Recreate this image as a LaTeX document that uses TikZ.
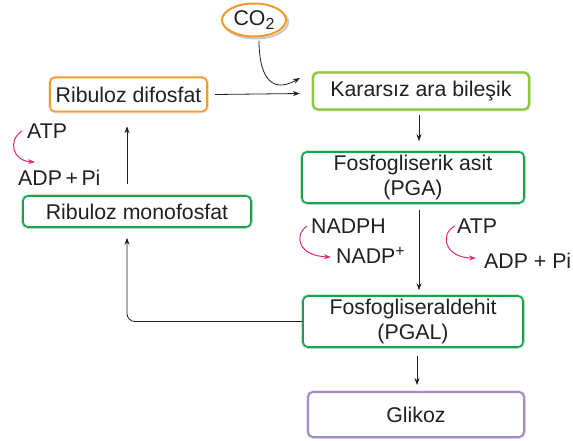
\documentclass[tikz,border=0pt]{standalone}
\usepackage{fontspec}
\setmainfont{Liberation Sans}
\usetikzlibrary{shapes.geometric,arrows.meta,calc}
\definecolor{cOrange}{HTML}{F39A2E}
\definecolor{cLime}{HTML}{8DC63F}
\definecolor{cGreen}{HTML}{1BA24A}
\definecolor{cPurple}{HTML}{A78BC4}
\definecolor{cPink}{HTML}{E6247E}
\definecolor{cText}{HTML}{231F20}
\newcommand{\fsz}{\fontsize{21.3}{24.5}\selectfont}
\tikzset{
  boxbase/.style={rectangle, rounded corners=5pt, line width=1.6pt, fill=white, text=cText, font=\fsz, align=center, inner sep=0pt},
  orangebox/.style={boxbase, draw=cOrange},
  limebox/.style={boxbase, draw=cLime, line width=2.2pt},
  greenbox/.style={boxbase, draw=cGreen},
  purplebox/.style={boxbase, draw=cPurple, line width=2pt},
  halo/.style={preaction={draw=#1!35, line width=3.5pt}},
  lbl/.style={text=cText, font=\fsz, inner sep=0pt, anchor=west},
  blk/.style={draw=cText, line width=0.8pt, -{Stealth[length=7pt,width=5pt]}},
  pnk/.style={draw=cPink, line width=1pt, -{Stealth[length=7pt,width=5pt]}}
}
\begin{document}
\begin{tikzpicture}[x=1pt,y=-1pt]
\useasboundingbox (0,0) rectangle (573,440);
% nodes
\node[ellipse, draw=cOrange, line width=2pt, fill=white, minimum width=64pt, minimum height=33pt, inner sep=0pt, text=cText, font=\fsz,
  preaction={draw=gray!45, line width=2pt, transform canvas={xshift=2pt,yshift=-2pt}}] (co2) at (254,20) {CO\raisebox{-4pt}{\fontsize{16}{16}\selectfont 2}};
\node[limebox, halo=cLime, minimum width=216pt, minimum height=37pt] (kar) at (421,91) {Kararsız ara bileşik};
\node[orangebox, halo=cOrange, minimum width=157pt, minimum height=34pt] (rdf) at (128.5,94.5) {Ribuloz difosfat};
\node[greenbox, halo=cGreen, minimum width=222pt, minimum height=51pt] (pga) at (413,177.5) {Fosfogliserik asit\\(PGA)};
\node[greenbox, halo=cGreen, minimum width=220pt, minimum height=51pt] (pgal) at (413,321.5) {Fosfogliseraldehit\\(PGAL)};
\node[purplebox, halo=cPurple, minimum width=216pt, minimum height=45pt] (glk) at (416,414.5) {Glikoz};
\node[greenbox, halo=cGreen, minimum width=228pt, minimum height=31pt] (rmf) at (137,211.5) {Ribuloz monofosfat};
% labels
\node[lbl] (atp1) at (27,131) {ATP};
\node[lbl] (adp1) at (18,178) {ADP\,+\,Pi};
\node[lbl] (nadph) at (311,226) {NADPH};
\node[lbl] (nadp) at (336,255) {NADP\raisebox{7pt}{\fontsize{16}{16}\selectfont +}};
\node[lbl] (atp2) at (457,226) {ATP};
\node[lbl] (adp2) at (484,261) {ADP + Pi};
% coordinates
\coordinate (xa) at (419,0);
\coordinate (xb) at (417,0);
\coordinate (xc) at (127,0);
\coordinate (ka) at (300,78);
% connectors
\draw[blk] ($(rdf.east)+(7,0)$) -- ($(kar.west |- rdf.east)+(-12,-1)$);
\draw[blk] ($(co2.south)+(5,3)$) .. controls ($(co2.south)+(5,35)$) and ($(co2.south)+(15,58)$) .. (ka);
\draw[blk] ($(kar.south -| xa)+(0,4)$) -- ($(pga.north -| xa)+(0,-10)$);
\draw[blk] ($(pga.south -| xa)+(0,6)$) -- ($(pgal.north -| xa)+(0,-5)$);
\draw[blk] ($(pgal.south -| xb)+(0,8)$) -- ($(glk.north -| xb)+(0,-6)$);
\draw[blk, rounded corners=8pt, shorten >=10pt] (pgal.west) -| (rmf.south -| xc);
\draw[blk] ($(rmf.north -| xc)+(0,-11)$) -- ($(rdf.south -| xc)+(0,14)$);
% pink curves
\draw[pnk] ($(atp1.west)+(-5,0)$) .. controls ($(atp1.west)+(-20,10)$) and ($(atp1.west)+(-14,30)$) .. ($(atp1.west)+(8,31)$);
\draw[pnk] ($(nadph.west)+(-4,0)$) .. controls ($(nadph.west)+(-18,10)$) and ($(nadph.west)+(-12,30)$) .. ($(nadp.west)+(-5,2)$);
\draw[pnk] ($(atp2.west)+(-2,0)$) .. controls ($(atp2.west)+(-18,8)$) and ($(atp2.west)+(-12,32)$) .. ($(adp2.west)+(-8,-3)$);
\end{tikzpicture}
\end{document}
